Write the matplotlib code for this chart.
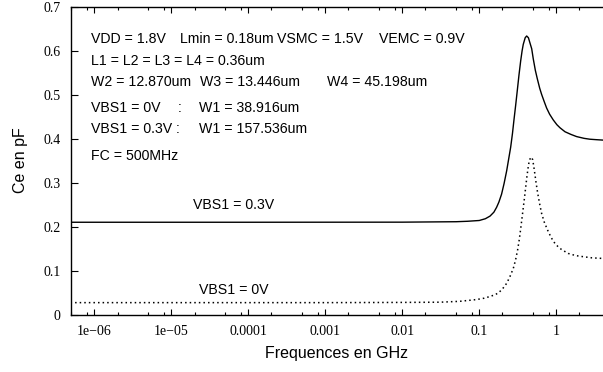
import matplotlib
matplotlib.use('Agg')
import matplotlib.pyplot as plt
import matplotlib.ticker as ticker

# VBS1 = 0.3V (solid)
freq_03 = [4.9e-7, 1e-4, 1e-2, 0.05, 0.07, 0.1, 0.12, 0.138, 0.155, 0.168,
           0.18, 0.195, 0.21, 0.227, 0.24, 0.256, 0.27, 0.282, 0.297, 0.312,
           0.328, 0.345, 0.36, 0.373, 0.395, 0.413, 0.435, 0.456, 0.48,
           0.503, 0.535, 0.567, 0.61, 0.646, 0.7, 0.75, 0.82, 0.914, 1.02,
           1.12, 1.3, 1.55, 1.84, 2.3, 2.74, 3.3, 4.05]
ce_03 = [0.2100, 0.2100, 0.2102, 0.2112, 0.2122, 0.2140, 0.2180, 0.2240,
         0.2330, 0.2440, 0.2560, 0.2740, 0.2980, 0.3270, 0.3520, 0.3810,
         0.4120, 0.4420, 0.4760, 0.5100, 0.5450, 0.5770, 0.6000, 0.6150,
         0.6300, 0.6340, 0.6300, 0.6180, 0.6050, 0.5820, 0.5560, 0.5370,
         0.5150, 0.5010, 0.4840, 0.4700, 0.4560, 0.4430, 0.4320, 0.4250,
         0.4160, 0.4100, 0.4050, 0.4010, 0.3990, 0.3980, 0.3970]

# VBS1 = 0V (dotted)
freq_0 = [4.9e-7, 1e-3, 1e-2, 0.031, 0.056, 0.092, 0.115, 0.138, 0.16,
          0.177, 0.2, 0.227, 0.25, 0.277, 0.297, 0.315, 0.332, 0.348, 0.366,
          0.384, 0.4, 0.416, 0.432, 0.446, 0.465, 0.479, 0.495, 0.518, 0.545,
          0.573, 0.61, 0.646, 0.7, 0.773, 0.86, 0.96, 1.06, 1.17, 1.43, 1.8,
          2.24, 2.9, 3.69, 4.05]
ce_0 = [0.0270, 0.0270, 0.0275, 0.0280, 0.0300, 0.0340, 0.0370, 0.0410,
        0.0450, 0.0490, 0.0580, 0.0710, 0.0860, 0.1050, 0.1250, 0.1470,
        0.1720, 0.2000, 0.2310, 0.2610, 0.2880, 0.3140, 0.3350, 0.3500,
        0.3570, 0.3580, 0.3520, 0.3300, 0.3020, 0.2770, 0.2510, 0.2300,
        0.2100, 0.1920, 0.1750, 0.1620, 0.1540, 0.1480, 0.1390, 0.1340,
        0.1316, 0.1290, 0.1280, 0.1275]

xtick_values = [1e-6, 1e-5, 1e-4, 1e-3, 1e-2, 1e-1, 1]
xtick_labels = ['1e\u221206', '1e\u221205', '0.0001', '0.001', '0.01',
                '0.1', '1']
ytick_values = [0, 0.1, 0.2, 0.3, 0.4, 0.5, 0.6, 0.7]
ytick_labels = ['0', '0.1', '0.2', '0.3', '0.4', '0.5', '0.6', '0.7']

info_lines = [
    [('VDD = 1.8V', 90.7), ('Lmin = 0.18um', 180), ('VSMC = 1.5V', 277),
     ('VEMC = 0.9V', 379)],
    [('L1 = L2 = L3 = L4 = 0.36um', 90.7)],
    [('W2 = 12.870um', 90.7), ('W3 = 13.446um', 200),
     ('W4 = 45.198um', 326.7)],
    [('VBS1 = 0V', 90.7), (':', 178), ('W1 = 38.916um', 199.3)],
    [('VBS1 = 0.3V :', 90.7), ('W1 = 157.536um', 199.3)],
    [('FC = 500MHz', 90.7)],
]
info_baselines = [43.3, 65, 86, 112, 132.7, 160]

W, H = 603, 372
SANS = 'Liberation Sans'
SERIF = 'Liberation Serif'


def px(x, y):
    """Pixel position (from top-left) to figure fraction."""
    return x / W, 1 - y / H


def plot_ce():
    fig = plt.figure(figsize=(W / 100, H / 100), dpi=100)
    left, top = px(70.5, 7)
    _, bottom = px(0, 314.5)
    ax = fig.add_axes([left, bottom, 1 - left, top - bottom])

    ax.plot(freq_03, ce_03, color='black', lw=1.0)
    ax.plot(freq_0, ce_0, color='black', lw=1.1, linestyle=(0, (1, 2)))

    ax.set_xscale('log')
    ax.set_xlim(4.9e-7, 4.05)
    ax.set_ylim(0, 0.7)

    ax.set_xticks(xtick_values, xtick_labels)
    ax.xaxis.set_minor_locator(ticker.LogLocator(base=10, subs=[2, 5, 8]))
    ax.xaxis.set_minor_formatter(ticker.NullFormatter())
    ax.set_yticks(ytick_values, ytick_labels)

    ax.spines['right'].set_visible(False)
    for s in ['left', 'bottom', 'top']:
        ax.spines[s].set_linewidth(1.0)
    ax.tick_params(axis='x', which='both', direction='in', top=True,
                   bottom=True, pad=7.5, labelsize=10)
    ax.tick_params(axis='x', which='major', length=4.5, width=0.8)
    ax.tick_params(axis='x', which='minor', length=2.2, width=0.8)
    ax.tick_params(axis='y', which='major', direction='in', length=5,
                   width=0.8, left=True, right=False, pad=7.2, labelsize=10)
    for lab in ax.get_xticklabels() + ax.get_yticklabels():
        lab.set_fontfamily(SERIF)

    for parts, base in zip(info_lines, info_baselines):
        for txt, x in parts:
            fx, fy = px(x, base)
            fig.text(fx, fy, txt, family=SANS, fontsize=10.2, va='baseline')

    fx, fy = px(192.7, 209)
    fig.text(fx, fy, 'VBS1 = 0.3V', family=SANS, fontsize=10.2,
             va='baseline')
    fx, fy = px(199.3, 294.3)
    fig.text(fx, fy, 'VBS1 = 0V', family=SANS, fontsize=10.2, va='baseline')

    fx, fy = px(336.5, 358)
    fig.text(fx, fy, 'Frequences en GHz', family=SANS, fontsize=11.5,
             ha='center', va='baseline')
    fx, fy = px(20.7, 160.5)
    fig.text(fx, fy, 'Ce en pF', family=SANS, fontsize=11.5, rotation=90,
             ha='center', va='center')

    fig.savefig('out.png', dpi=100)


if __name__ == '__main__':
    plot_ce()
